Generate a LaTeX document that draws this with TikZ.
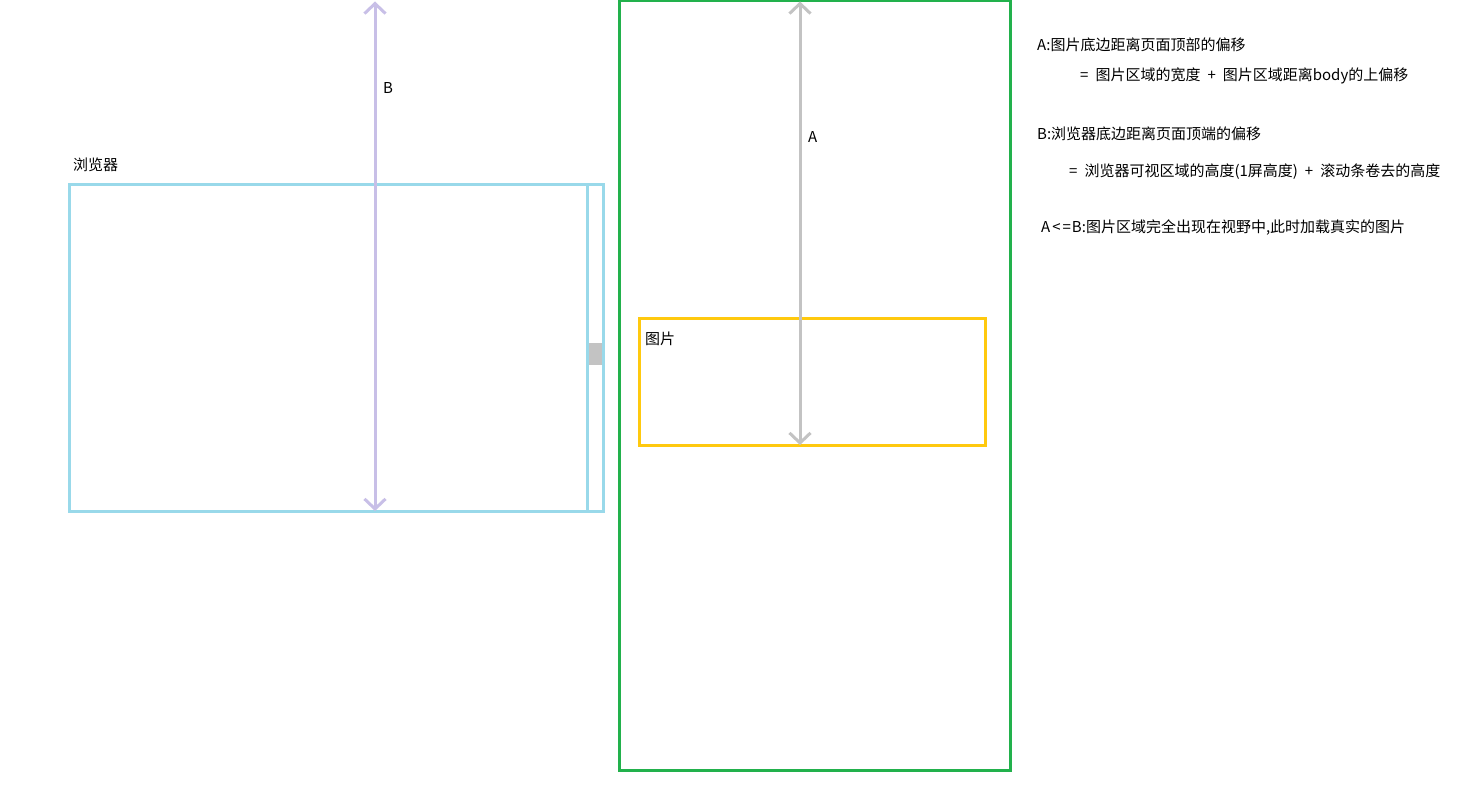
\documentclass[tikz,border=0pt]{standalone}
\usepackage{fontspec}
\setmainfont{Noto Sans CJK SC}
\usetikzlibrary{arrows.meta}
\definecolor{browserblue}{HTML}{99D9EA}
\definecolor{pagegreen}{HTML}{22B14C}
\definecolor{imgyellow}{HTML}{FFC90E}
\definecolor{arrowlilac}{HTML}{C8BFE7}
\definecolor{arrowgray}{HTML}{C3C3C3}
\newcommand{\gap}{\hspace{7pt}}
\tikzset{
  lbl/.style={anchor=west, inner sep=0pt, font=\fontsize{15}{17}\selectfont},
  dimarrow/.style={line width=3pt, {Straight Barb[length=10pt,width=21pt]}-{Straight Barb[length=10pt,width=21pt]}}
}
\begin{document}
\begin{tikzpicture}[x=1pt, y=-1pt]
\useasboundingbox (0,0) rectangle (1475,789);
\fill[white] (0,0) rectangle (1475,789);

\draw[browserblue, line width=3pt] (69,184) rectangle (603,511);
\draw[browserblue, line width=3pt] (587,184) -- (587,511);
\fill[arrowgray] (588.5,343) rectangle (601.5,365);
\node[lbl] (browser) at (73,165) {浏览器};

\draw[pagegreen, line width=3pt] (619,1) rectangle (1010,770);
\draw[imgyellow, line width=3pt] (639,318) rectangle (985,445);
\node[lbl] (picture) at (645,339) {图片};

\coordinate (btop) at (375,1.5);
\coordinate (bbot) at (375,511);
\draw[arrowlilac, dimarrow] (btop) -- (bbot);
\node[lbl] (blabel) at (383,88) {B};

\coordinate (atop) at (800,1.5);
\coordinate (abot) at (800,445);
\draw[arrowgray, dimarrow] (atop) -- (abot);
\node[lbl] (alabel) at (808,137) {A};

\node[lbl] (adef) at (1037,45) {A:图片底边距离页面顶部的偏移};
\node[lbl] (aeq) at (1080,76) {=\gap 图片区域的宽度\gap +\gap 图片区域距离body的上偏移};
\node[lbl] (bdef) at (1037,134) {B:浏览器底边距离页面顶端的偏移};
\node[lbl] (beq) at (1069,172) {=\gap 浏览器可视区域的高度(1屏高度)\gap +\gap 滚动条卷去的高度};
\node[lbl] (rule) at (1041,228) {A\kern2pt<\kern2pt=\kern1ptB:图片区域完全出现在视野中,此时加载真实的图片};
\end{tikzpicture}
\end{document}
